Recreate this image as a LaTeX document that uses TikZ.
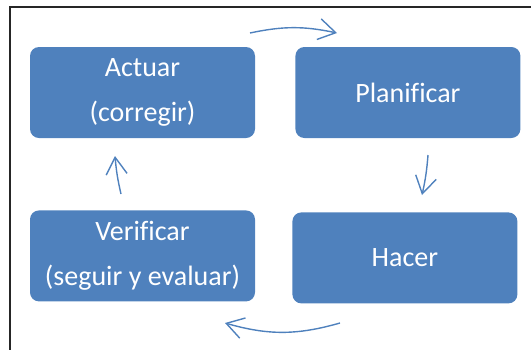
\documentclass[tikz,border=0pt]{standalone}
\usepackage{fontspec}
\setmainfont{Carlito}[Ligatures=NoCommon]
\usepackage{xcolor}
\usetikzlibrary{arrows.meta,positioning}

\definecolor{phaseblue}{HTML}{4F81BD}

\begin{document}
\begin{tikzpicture}[
			x=1pt,
			y=-1pt,
			node distance=72pt and 40pt,
			phase/.style={
				fill=phaseblue,
				rounded corners=9pt,
				align=center,
				text=white,
				minimum width=225pt,
				minimum height=91pt,
				inner sep=0pt,
				font=\fontsize{28}{45}\selectfont
			},
			cycle/.style={
				draw=phaseblue,
				line width=1.4pt,
				-{Straight Barb[length=17pt,width=21pt]}
			}
			]
			
			\useasboundingbox (0,0) rectangle (531,349);
			\clip (0,0) rectangle (531,349);
			
			%=====================================================================
			% Frame
			%=====================================================================
			
			\draw[line width=1.5pt, black!85] (10,7) rectangle (560,380);
			
			%=====================================================================
			% Phases
			%=====================================================================
			
			\node[phase] (actuar) at (142.5,92.5)
			{Actuar\\(corregir)};
			
			\node[phase, right=of actuar] (planificar)
			{Planificar};
			
			\node[phase, below=of actuar] (verificar)
			{Verificar\\(seguir y evaluar)};
			
			\node[phase, right=37pt of verificar, yshift=-2pt] (hacer)
			{Hacer};
			
			%=====================================================================
			% Cycle arrows
			%=====================================================================
			
			\coordinate (top-a) at (250,33);
			\coordinate (top-b) at (337,33);
			\coordinate (right-a) at (428,155);
			\coordinate (right-b) at (422,195);
			\coordinate (bottom-a) at (340,323);
			\coordinate (bottom-b) at (225,323);
			\coordinate (left-a) at (121,194);
			\coordinate (left-b) at (115,156);
			
			\draw[cycle] (top-a) to[bend left=12] (top-b);
			\draw[cycle] (right-a) to[bend left=4] (right-b);
			\draw[cycle] (bottom-a) to[bend left=16] (bottom-b);
			\draw[cycle] (left-a) to[bend left=4] (left-b);
			
		\end{tikzpicture}
\end{document}
